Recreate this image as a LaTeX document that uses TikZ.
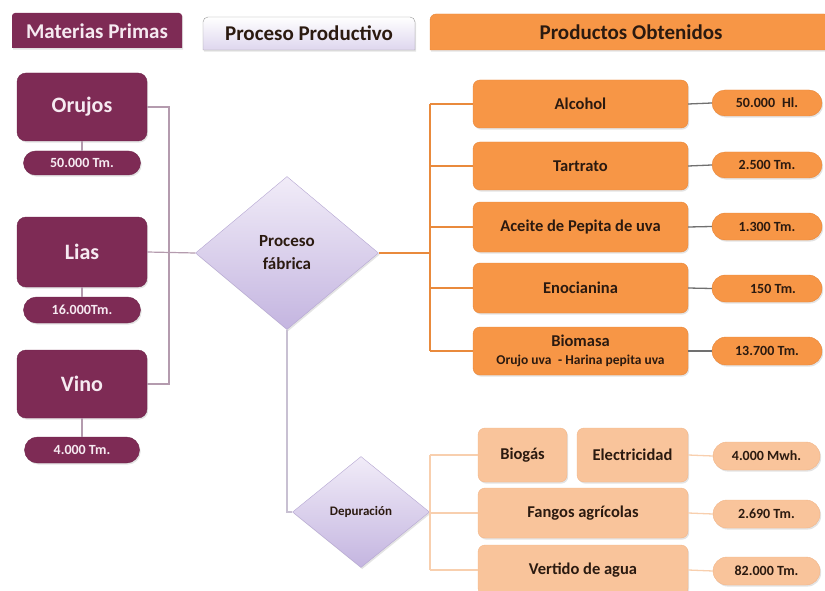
\documentclass[tikz,border=0pt]{standalone}
\usepackage{fontspec}
\setmainfont{Carlito}
\usetikzlibrary{shapes.geometric,shapes.misc,shadows}

\definecolor{wine}{HTML}{7E2B55}
\definecolor{wineedge}{HTML}{6E2349}
\definecolor{winetext}{HTML}{F6EAF1}
\definecolor{mauveline}{HTML}{B49BAE}
\definecolor{lilacline}{HTML}{C8C0D2}
\definecolor{lilactop}{HTML}{F1ECF8}
\definecolor{lilacbot}{HTML}{C4B5E0}
\definecolor{lilacedge}{HTML}{B5A6D2}
\definecolor{orangefill}{HTML}{F79646}
\definecolor{orangeedge}{HTML}{E8873A}
\definecolor{orangeline}{HTML}{E98A3C}
\definecolor{peachfill}{HTML}{F9C49B}
\definecolor{peachedge}{HTML}{F2B689}
\definecolor{peachline}{HTML}{F8CFAE}
\definecolor{darktext}{HTML}{2B1A10}
\definecolor{greyline}{HTML}{707070}

\begin{document}
\begin{tikzpicture}[x=1pt,y=-1pt,
  softshadow/.style={drop shadow={opacity=0.22,shadow xshift=1.2pt,shadow yshift=-1.6pt}},
  rawbox/.style={draw=wineedge,fill=wine,rounded corners=9pt,inner sep=0pt,
    text=winetext,font=\bfseries\fontsize{22}{24}\selectfont,softshadow},
  rawpill/.style={rounded rectangle,draw=wineedge,fill=wine,inner sep=0pt,
    text=winetext,font=\bfseries\fontsize{14}{16}\selectfont,softshadow},
  prodbox/.style={draw=orangeedge,fill=orangefill,rounded corners=7pt,inner sep=0pt,
    minimum width=215pt,text=darktext,font=\bfseries\fontsize{16.5}{19}\selectfont,softshadow},
  prodpill/.style={rounded rectangle,draw=orangeedge,fill=orangefill,inner sep=0pt,
    minimum width=110pt,text=darktext,font=\bfseries\fontsize{14}{16}\selectfont,softshadow},
  wastebox/.style={draw=peachedge,fill=peachfill,rounded corners=7pt,inner sep=0pt,
    text=darktext,font=\bfseries\fontsize{16.5}{19}\selectfont,softshadow},
  wastepill/.style={rounded rectangle,draw=peachedge,fill=peachfill,inner sep=0pt,
    minimum width=107pt,minimum height=28pt,text=darktext,font=\bfseries\fontsize{14}{16}\selectfont,softshadow},
  rhombus/.style={diamond,draw=lilacedge,shading=axis,top color=lilactop,bottom color=lilacbot,
    inner sep=0pt,align=center,text=darktext,softshadow},
  headtext/.style={font=\bfseries\fontsize{21}{24}\selectfont},
  rawlink/.style={draw=mauveline,line width=1.2pt},
  prodlink/.style={draw=orangeline,line width=1.6pt},
  qtylink/.style={draw=greyline,line width=1.3pt},
  wastelink/.style={draw=peachline,line width=1.3pt},
  purelink/.style={draw=lilacline,line width=1.2pt}
]
\useasboundingbox (0,0) rectangle (825,591);
\clip (0,0) rectangle (825,591);

% ---- column headers ----
\path[fill=wine,softshadow] (12,48) [rounded corners=3pt] -- (12,13) -- (182,13) [sharp corners] -- (182,48) -- cycle;
\node[headtext,text=winetext] (hraw) at (97,31) {Materias Primas};

\path[draw=gray!80,shading=axis,top color=white,bottom color=lilacbot!55,softshadow]
  (203,50) [rounded corners=5pt] -- (203,17) -- (415,17) [sharp corners] -- (415,50) -- cycle;
\node[headtext,text=darktext] (hproc) at (309,33) {Proceso Productivo};

\path[fill=orangefill,draw=orangeedge,softshadow]
  (430,50) [rounded corners=6pt] -- (430,14) -- (830,14) [sharp corners] -- (830,50) -- cycle;
\node[headtext,text=darktext] (hprod) at (631,32) {Productos Obtenidos};

% ---- raw materials ----
\node[rawbox,minimum width=130pt,minimum height=68pt] (orujos) at (82,107) {Orujos};
\node[rawpill,minimum width=117pt,minimum height=24pt] (qorujos) at (82,163) {50.000 Tm.};
\node[rawbox,minimum width=130pt,minimum height=70pt] (lias) at (82,252) {Lias};
\node[rawpill,minimum width=117pt,minimum height=26pt] (qlias) at (82,310) {16.000Tm.};
\node[rawbox,minimum width=130pt,minimum height=68pt] (vino) at (82,384) {Vino};
\node[rawpill,minimum width=115pt,minimum height=26pt] (qvino) at (82,450) {4.000 Tm.};

% ---- process diamonds ----
\node[rhombus,minimum width=183pt,minimum height=153pt,
      font=\bfseries\fontsize{17}{23}\selectfont] (fab) at (287,253) {Proceso\\fábrica};
\node[rhombus,minimum width=137pt,minimum height=111pt,
      font=\bfseries\fontsize{13}{15}\selectfont] (dep) at (361,512) {Depuración};

% ---- products ----
\node[prodbox,minimum height=48pt] (alc) at (580.5,104) {Alcohol};
\node[prodbox,minimum height=48pt] (tar) at (580.5,166) {Tartrato};
\node[prodbox,minimum height=50pt] (ace) at (580.5,227) {Aceite de Pepita de uva};
\node[prodbox,minimum height=50pt] (eno) at (580.5,288) {Enocianina};
\node[prodbox,minimum height=48pt,align=center] (bio) at (580.5,351)
  {Biomasa\\[-1pt]{\fontsize{13.5}{15}\selectfont Orujo uva\enspace- Harina pepita uva}};

\node[prodpill,minimum height=26pt] (qalc) at (767,103) {50.000\enspace Hl.};
\node[prodpill,minimum height=26pt] (qtar) at (767,165) {2.500 Tm.};
\node[prodpill,minimum height=27pt] (qace) at (767,226.5) {1.300 Tm.};
\node[prodpill,minimum height=27pt] (qeno) at (767,288.5) {\hspace*{12pt}150 Tm.};
\node[prodpill,minimum height=28pt] (qbio) at (767,351) {13.700 Tm.};

% ---- treatment outputs ----
\node[wastebox,minimum width=89pt,minimum height=54pt] (gas) at (522.5,455) {Biogás};
\node[wastebox,minimum width=111pt,minimum height=54pt] (ele) at (632.5,455) {Electricidad};
\node[wastebox,minimum width=210pt,minimum height=50pt] (fan) at (583,513) {Fangos agrícolas};
\node[wastebox,minimum width=210pt,minimum height=50pt] (ver) at (583,570) {Vertido de agua};

\node[wastepill] (qele) at (766.5,456) {4.000 Mwh.};
\node[wastepill] (qfan) at (766.5,514) {2.690 Tm.};
\node[wastepill] (qver) at (766.5,571) {82.000 Tm.};

% ---- connectors: raw materials ----
\coordinate (rawbus) at (169,0);
\draw[rawlink] (orujos.east) -- (rawbus |- orujos.east) -- (rawbus |- vino.east) -- (vino.east);
\draw[rawlink] (lias.east) -- (fab.west);
\draw[rawlink] (orujos.south) -- (qorujos.north);
\draw[rawlink] (lias.south) -- (qlias.north);
\draw[rawlink] (vino.south) -- (qvino.north);

% ---- connectors: factory to products ----
\coordinate (prodbus) at (430,0);
\draw[prodlink] (fab.east) -- (prodbus |- fab.east);
\draw[prodlink] (prodbus |- alc.west) -- (prodbus |- bio.west);
\foreach \b in {alc,tar,ace,eno,bio}
  \draw[prodlink] (prodbus |- \b.west) -- (\b.west);
\foreach \b/\q in {alc/qalc,tar/qtar,ace/qace,eno/qeno,bio/qbio}
  \draw[qtylink] (\b.east) -- (\q.west);

% ---- connectors: factory to treatment ----
\draw[purelink] (fab.south) |- (dep.west);

% ---- connectors: treatment outputs ----
\coordinate (wastebus) at (430,0);
\draw[wastelink] (wastebus |- gas.west) -- (wastebus |- ver.west);
\foreach \b in {gas,fan,ver}
  \draw[wastelink] (wastebus |- \b.west) -- (\b.west);
\foreach \b/\q in {ele/qele,fan/qfan,ver/qver}
  \draw[wastelink] (\b.east) -- (\q.west);
\end{tikzpicture}
\end{document}
